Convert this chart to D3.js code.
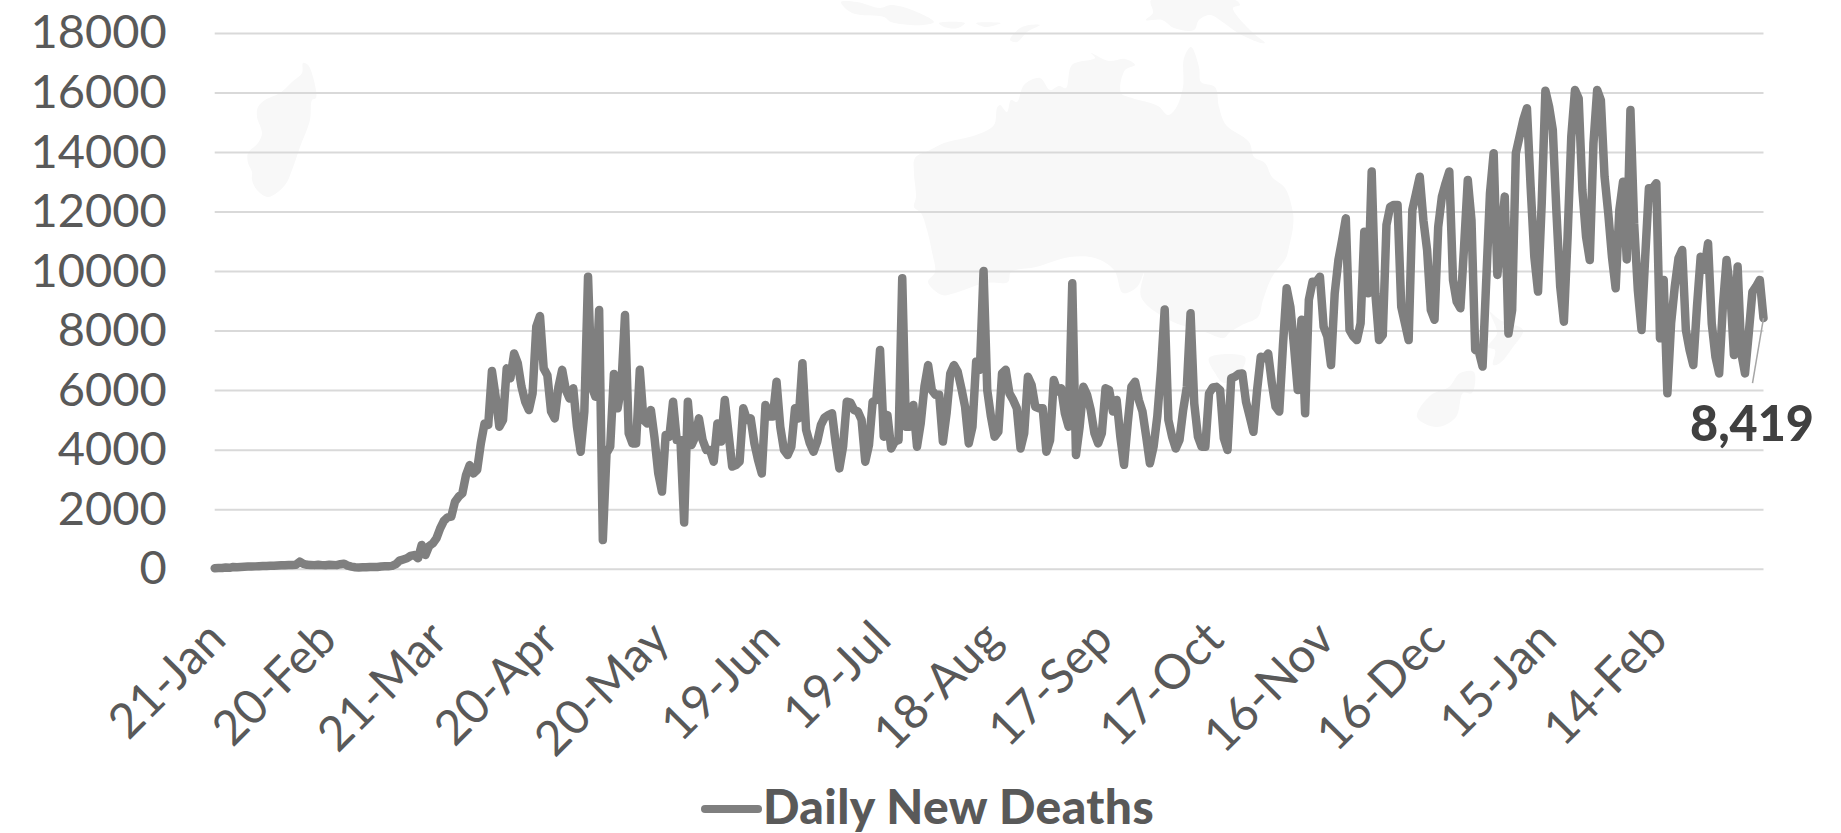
<!DOCTYPE html>
<html>
<head>
<meta charset="utf-8">
<script src="https://cdn.jsdelivr.net/npm/d3@7"></script>
<style>
html, body { margin: 0; padding: 0; background: #fff; overflow: hidden; }
svg text { font-family: Lato, "Open Sans", sans-serif; }
</style>
</head>
<body>
<div id="chart"></div>
<script>
// category labels shown on the axis, one every 30 days
const tickLabels = ["21-Jan", "20-Feb", "21-Mar", "20-Apr", "20-May", "19-Jun", "19-Jul",
    "18-Aug", "17-Sep", "17-Oct", "16-Nov", "16-Dec", "15-Jan", "14-Feb"];
const yTicks = [0, 2000, 4000, 6000, 8000, 10000, 12000, 14000, 16000, 18000];
const seriesName = "Daily New Deaths";
const lastLabel = "8,419";

// one value per day
const dailyDeaths = [
    17, 26, 25, 42, 30, 56, 48, 60, 66, 70, 72, 78, 85, 88, 92, 98, 102, 108, 112, 118,
    122, 128, 135, 235, 160, 130, 125, 120, 135, 120, 115, 130, 125, 120, 150, 170, 100, 70, 50, 40,
    45, 50, 60, 55, 60, 75, 80, 85, 95, 150, 270, 310, 350, 430, 460, 350, 800, 460, 760, 850,
    1020, 1355, 1610, 1725, 1750, 2250, 2420, 2530, 3150, 3480, 3200, 3320, 4210, 4880, 4830, 6640, 5780, 4770, 5000, 6730,
    6400, 7230, 6900, 6110, 5610, 5330, 5890, 8130, 8490, 6730, 6500, 5280, 5050, 6110, 6680, 6000, 5720, 6060, 4770, 3930,
    5280, 9810, 6110, 5780, 8690, 960, 3880, 4100, 6540, 5390, 6110, 8520, 4550, 4210, 4210, 6680, 5000, 4880, 5330, 4380,
    3200, 2590, 4490, 4435, 5610, 4320, 4320, 1550, 5610, 4155, 4435, 5050, 4320, 3990, 3990, 3595, 4880, 4270, 5670, 4550,
    3430, 3480, 3595, 5390, 5000, 5050, 4210, 3650, 3200, 5500, 5110, 5110, 6280, 4770, 3990, 3820, 4100, 5390, 5050, 6900,
    4660, 4210, 3930, 4270, 4830, 5080, 5160, 5220, 4210, 3370, 4100, 5610, 5580, 5330, 5280, 5000, 3595, 4155, 5610, 5670,
    7350, 4435, 5160, 4040, 4270, 4320, 9760, 4770, 4770, 5500, 4100, 4880, 6110, 6840, 6000, 5840, 5840, 4270, 5220, 6560,
    6840, 6620, 6060, 5440, 4210, 4770, 6960, 6680, 10000, 6000, 5110, 4435, 4600, 6560, 6680, 5890, 5670, 5390, 4040, 4550,
    6450, 6170, 5440, 5390, 5390, 3930, 4320, 6340, 5950, 6060, 5220, 4770, 9590, 3820, 4770, 6110, 5840, 5330, 4550, 4210,
    4550, 6060, 6000, 5280, 5670, 4435, 3490, 4880, 6110, 6280, 5670, 5280, 4435, 3540, 4100, 5110, 6680, 8710, 5000, 4435,
    4040, 4320, 5330, 6110, 8580, 5550, 4435, 4100, 4100, 5890, 6090, 6110, 6000, 4380, 3990, 6400, 6450, 6540, 6560, 5610,
    5110, 4600, 6000, 7120, 7070, 7230, 6230, 5440, 5280, 7510, 9420, 8800, 7460, 6000, 8360, 5220, 9030, 9640, 9640, 9810,
    8130, 7800, 6840, 9250, 10370, 11040, 11770, 8020, 7800, 7680, 8240, 11320, 9250, 13340, 9250, 7680, 7850, 11550, 12160, 12220,
    12220, 8800, 8240, 7680, 12050, 12610, 13170, 11700, 10700, 8690, 8360, 11490, 12500, 12950, 13340, 9700, 8970, 8750, 10820, 13060,
    11710, 7350, 7290, 6790, 9700, 12610, 13960, 9870, 11150, 12500, 7900, 8690, 13960, 14515, 15070, 15470, 12830, 10480, 9310, 12280,
    16060, 15520, 14740, 11940, 9480, 8300, 11150, 14515, 16080, 15800, 12720, 11150, 10370, 14290, 16080, 15740, 13170, 11940, 10480, 9420,
    12050, 13000, 10390, 15410, 11600, 9360, 8020, 10480, 12780, 12780, 12950, 7740, 9700, 5890, 8240, 9480, 10430, 10710, 8020, 7350,
    6840, 8800, 10480, 10040, 10930, 8240, 7120, 6560, 8800, 10370, 9360, 7180, 10150, 7240, 6560, 7900, 9300, 9480, 9700, 8419
];

// faint map watermark behind the chart, outlines in page pixels
const watermark = [
    // Madagascar
    [[303,63],[308,65],[313,77],[316,98],[312,100],[310,120],[300,147],[292,170],[285,185],[268,197],[257,190],[252,180],[252,172],[248,163],[248,153],[258,143],[262,133],[257,117],[258,107],[265,100],[280,93],[292,82],[302,73]],
    // Australia
    [[915,158],[930,150],[944,143],[976,135],[994,125],[997,108],[1000,105],[1007,112],[1011,100],[1017,102],[1024,85],[1040,78],[1050,90],[1059,86],[1066,88],[1072,65],[1095,58],[1091,53],[1109,61],[1125,59],[1135,65],[1125,70],[1121,93],[1132,98],[1158,106],[1168,115],[1176,108],[1183,87],[1184,58],[1191,47],[1199,67],[1201,82],[1215,87],[1219,107],[1226,125],[1249,142],[1254,157],[1265,163],[1272,177],[1285,188],[1293,213],[1293,227],[1289,247],[1286,258],[1272,277],[1263,300],[1258,317],[1242,325],[1229,333],[1224,338],[1205,332],[1169,320],[1141,297],[1144,273],[1137,287],[1123,293],[1114,270],[1095,258],[1070,257],[1036,267],[1011,272],[1008,282],[985,283],[955,293],[942,295],[928,282],[935,272],[932,252],[927,230],[921,213],[914,207],[916,197],[914,173]],
    // Tasmania
    [[1209,358],[1245,357],[1240,373],[1224,383],[1215,373]],
    // New Zealand
    [[1417,417],[1437,427],[1456,417],[1463,393],[1472,393],[1474,372],[1460,373],[1449,387],[1431,395]],
    [[1490,312],[1500,320],[1523,330],[1513,347],[1500,363],[1493,365],[1495,350],[1488,347],[1497,333]],
    // islands along the top edge
    [[841,2],[852,13],[884,17],[891,22],[923,25],[934,22],[912,10],[891,5],[880,8],[857,2]],
    [[939,23],[965,23],[958,28],[944,27]],
    [[976,23],[1001,23],[985,27]],
    [[1010,40],[1022,27],[1040,25],[1027,32],[1017,42]],
    [[1151,0],[1235,0],[1240,5],[1233,8],[1252,32],[1265,43],[1261,43],[1238,33],[1224,23],[1210,15],[1199,20],[1194,30],[1174,28],[1162,20],[1146,20],[1153,13]]
];

const fullWidth = 1841;
const fullHeight = 833;

const x = d3.scaleLinear().domain([0, dailyDeaths.length - 1]).range([214.7, 1763.5]);
const y = d3.scaleLinear().domain([0, 18000]).range([568.7, 32.9]);

const svg = d3.select("#chart")
    .append("svg")
    .attr("width", fullWidth)
    .attr("height", fullHeight);

svg.append("g")
    .selectAll("path")
    .data(watermark)
    .enter()
    .append("path")
    .attr("fill", "#f8f8f8")
    .attr("d", d3.line().curve(d3.curveCatmullRomClosed.alpha(0.5)));

// gridlines come from the left axis' tick lines
const yAxis = svg.append("g")
    .attr("transform", `translate(${x.range()[0]}, 0)`)
    .call(d3.axisLeft(y).tickValues(yTicks).tickFormat(d3.format("d"))
        .tickSize(-(x.range()[1] - x.range()[0])).tickPadding(48));
yAxis.select(".domain").remove();
yAxis.selectAll("line").attr("stroke", "#d9d9d9").attr("stroke-width", 2);
yAxis.selectAll("text")
    .attr("fill", "#595959")
    .style("font-size", "47px");

const xAxis = svg.append("g")
    .attr("transform", `translate(0, ${y(0)})`)
    .call(d3.axisBottom(x).tickValues(tickLabels.map((d, i) => i * 30))
        .tickFormat((d, i) => tickLabels[i]).tickSize(0));
xAxis.select(".domain").remove();
xAxis.selectAll("text")
    .attr("fill", "#595959")
    .attr("y", 0)
    .attr("dy", 0)
    .attr("transform", "translate(13, 73) rotate(-45)")
    .style("text-anchor", "end")
    .style("font-size", "48px");

const line = d3.line()
    .x((d, i) => x(i))
    .y(d => y(d));

svg.append("path")
    .datum(dailyDeaths)
    .attr("fill", "none")
    .attr("stroke", "#7f7f7f")
    .attr("stroke-width", 8.5)
    .attr("stroke-linejoin", "round")
    .attr("stroke-linecap", "round")
    .attr("d", line);

// leader line from the last point to its label
const lastIndex = dailyDeaths.length - 1;
svg.append("line")
    .attr("x1", x(lastIndex))
    .attr("y1", y(dailyDeaths[lastIndex]))
    .attr("x2", x(lastIndex) - 11)
    .attr("y2", y(dailyDeaths[lastIndex]) + 65)
    .attr("stroke", "#a6a6a6")
    .attr("stroke-width", 1.5);

svg.append("text")
    .attr("x", 1752)
    .attr("y", 441)
    .attr("text-anchor", "middle")
    .attr("fill", "#404040")
    .style("font-size", "48.5px")
    .style("font-weight", 900)
    .text(lastLabel);

// legend
svg.append("line")
    .attr("x1", 705)
    .attr("x2", 758)
    .attr("y1", 809)
    .attr("y2", 809)
    .attr("stroke", "#7f7f7f")
    .attr("stroke-width", 8)
    .attr("stroke-linecap", "round");

svg.append("text")
    .attr("x", 763)
    .attr("y", 824)
    .attr("fill", "#595959")
    .style("font-size", "48px")
    .style("font-weight", 900)
    .style("letter-spacing", "0.4px")
    .text(seriesName);
</script>
</body>
</html>
